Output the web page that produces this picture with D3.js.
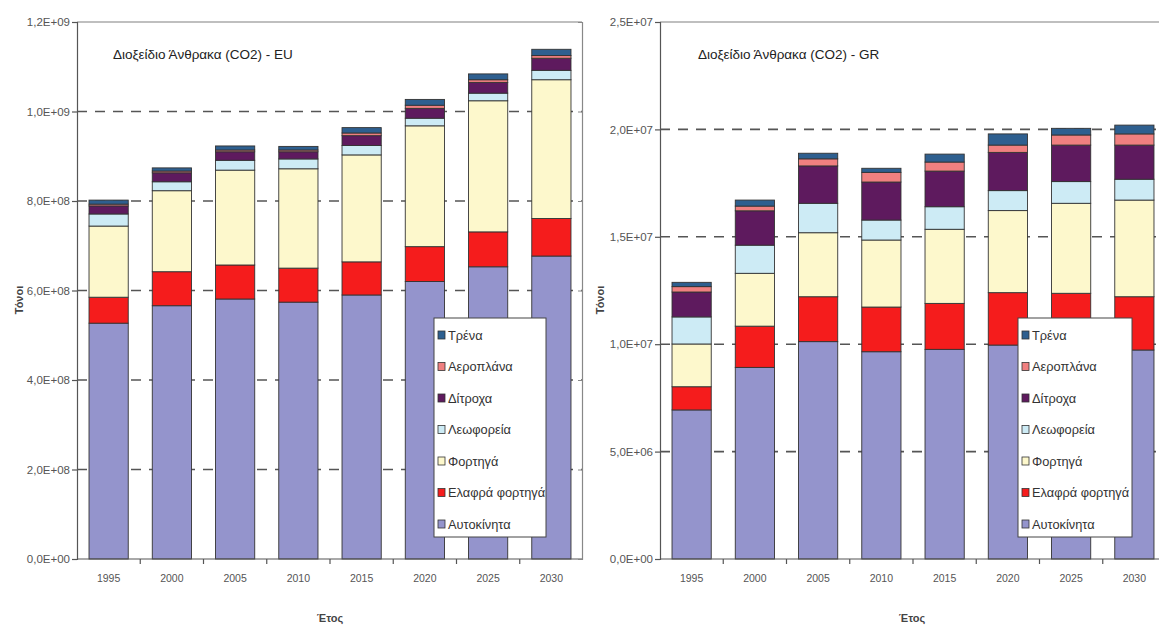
<!DOCTYPE html>
<html><head><meta charset="utf-8">
<script src="https://cdn.jsdelivr.net/npm/d3@7"></script>
<style>
html,body{margin:0;padding:0;background:#fff;}
svg{display:block;font-family:"Liberation Sans",Arial,sans-serif;}
</style></head>
<body>
<svg id="chart" width="1159" height="628"></svg>
<script>
// ---------- DATA ----------
const years = ["1995","2000","2005","2010","2015","2020","2025","2030"];
const seriesNames = ["Αυτοκίνητα","Ελαφρά φορτηγά","Φορτηγά","Λεωφορεία","Δίτροχα","Αεροπλάνα","Τρένα"];
const seriesColors = ["#9494cc","#f51c1c","#fdf8cc","#cdebf5","#5e1a5e","#f08080","#2e5f8f"];

// EU (tonnes)
const euAutokinita = [527e6, 566e6, 581e6, 574e6, 590e6, 620e6, 653e6, 677e6];
const euElafra     = [58e6, 76e6, 76e6, 76e6, 74e6, 78e6, 78e6, 84e6];
const euFortiga    = [159e6, 181e6, 212e6, 222e6, 239e6, 270e6, 293e6, 310e6];
const euLeoforeia  = [27e6, 20e6, 22e6, 22e6, 21e6, 17e6, 17e6, 21e6];
const euDitroxa    = [18e6, 20e6, 19e6, 16e6, 22e6, 22e6, 24e6, 27e6];
const euAeroplana  = [4e6, 4e6, 4e6, 4e6, 6e6, 7e6, 6e6, 6e6];
const euTrena      = [9e6, 7e6, 9e6, 8e6, 12e6, 13e6, 13e6, 14e6];

// GR (tonnes)
const grAutokinita = [6.94e6, 8.92e6, 10.12e6, 9.65e6, 9.76e6, 9.96e6, 9.90e6, 9.73e6];
const grElafra     = [1.08e6, 1.92e6, 2.09e6, 2.08e6, 2.14e6, 2.44e6, 2.47e6, 2.48e6];
const grFortiga    = [1.99e6, 2.46e6, 2.98e6, 3.12e6, 3.45e6, 3.82e6, 4.19e6, 4.50e6];
const grLeoforeia  = [1.26e6, 1.31e6, 1.37e6, 0.93e6, 1.05e6, 0.93e6, 1.01e6, 0.97e6];
const grDitroxa    = [1.16e6, 1.60e6, 1.74e6, 1.77e6, 1.66e6, 1.78e6, 1.70e6, 1.59e6];
const grAeroplana  = [0.25e6, 0.22e6, 0.33e6, 0.45e6, 0.42e6, 0.34e6, 0.47e6, 0.52e6];
const grTrena      = [0.20e6, 0.28e6, 0.26e6, 0.19e6, 0.37e6, 0.52e6, 0.31e6, 0.41e6];

// Axis ticks
const euTicks = [0, 2e8, 4e8, 6e8, 8e8, 1e9, 1.2e9];
const euTickLabels = ["0,0E+00","2,0E+08","4,0E+08","6,0E+08","8,0E+08","1,0E+09","1,2E+09"];
const grTicks = [0, 5e6, 1e7, 1.5e7, 2e7, 2.5e7];
const grTickLabels = ["0,0E+00","5,0E+06","1,0E+07","1,5E+07","2,0E+07","2,5E+07"];

const titleEU = "Διοξείδιο Άνθρακα (CO2) - EU";
const titleGR = "Διοξείδιο Άνθρακα (CO2) - GR";
const yTitle = "Τόνοι";
const xTitle = "Έτος";

// ---------- DRAW ----------
const svg = d3.select("#chart");
svg.append("rect").attr("width",1159).attr("height",628).attr("fill","#fff");

function buildRows(arrs){
  return years.map((y,i)=>{
    const r = {year:y};
    seriesNames.forEach((s,k)=>{ r[s] = arrs[k][i]; });
    return r;
  });
}

function drawPanel(cfg){
  const g = svg.append("g");
  const x = d3.scaleBand().domain(years).range([cfg.x0, cfg.x1]).paddingInner(0.38).paddingOuter(0.19);
  const y = d3.scaleLinear().domain([0, cfg.ymax]).range([cfg.yb, cfg.yt]);

  // gridlines
  cfg.ticks.forEach((t)=>{
    if (t === 0) return;
    const last = (t === cfg.ymax);
    g.append("line")
      .attr("x1", cfg.x0).attr("x2", cfg.gridEnd)
      .attr("y1", y(t)).attr("y2", y(t))
      .attr("stroke", last ? "#aaa" : "#555")
      .attr("stroke-width", 1.6)
      .attr("stroke-dasharray", last ? null : "10,8");
  });

  const rows = buildRows(cfg.data);
  const stack = d3.stack().keys(seriesNames)(rows);
  stack.forEach((layer,k)=>{
    g.append("g").selectAll("rect").data(layer).join("rect")
      .attr("x", d=>x(d.data.year))
      .attr("width", x.bandwidth())
      .attr("y", d=>y(d[1]))
      .attr("height", d=>Math.max(0, y(d[0]) - y(d[1])))
      .attr("fill", seriesColors[k])
      .attr("stroke", "#333")
      .attr("stroke-width", 0.9);
  });

  // y axis
  const ya = d3.axisLeft(y).tickValues(cfg.ticks).tickSize(5).tickFormat((d,i)=>cfg.tickLabels[i]);
  const yg = g.append("g").attr("transform", `translate(${cfg.x0},0)`).call(ya);
  yg.select(".domain").attr("stroke","#555").attr("stroke-width",1.2);
  yg.selectAll(".tick line").attr("stroke","#555").attr("stroke-width",1.2);
  yg.selectAll("text").attr("font-size", 11.5).attr("fill","#555").attr("x", -7)
    .attr("font-family","'Liberation Sans Narrow','Liberation Sans',Arial,sans-serif");

  // x axis
  const xg = g.append("g").attr("transform", `translate(0,${cfg.yb})`);
  xg.append("line").attr("x1", cfg.x0).attr("x2", cfg.gridEnd).attr("y1",0).attr("y2",0)
    .attr("stroke","#555").attr("stroke-width",1.2);
  years.forEach((yr,i)=>{
    if (i>0){
      const bx = x(yr) - x.step()*x.paddingInner()/2;
      xg.append("line").attr("x1",bx).attr("x2",bx).attr("y1",0).attr("y2",5)
        .attr("stroke","#555").attr("stroke-width",1.2);
    }
    xg.append("text").attr("x", x(yr)+x.bandwidth()/2).attr("y", 23)
      .attr("text-anchor","middle").attr("font-size",10.5).attr("fill","#555").text(yr);
  });

  // titles
  g.append("text").attr("x", cfg.titleX).attr("y", 59).attr("font-size", 13.5)
    .attr("fill","#222").text(cfg.title);
  g.append("text").attr("x", cfg.xTitleX).attr("y", 622).attr("text-anchor","middle")
    .attr("font-size",11).attr("font-weight","bold").attr("fill","#444").text(xTitle);
  g.append("text").attr("transform", `translate(${cfg.yTitleX},300) rotate(-90)`)
    .attr("text-anchor","middle").attr("font-size",11).attr("font-weight","bold")
    .attr("fill","#444").text(yTitle);

  // right frame
  if (cfg.rightAxis){
    const ra = d3.axisLeft(y).tickValues(cfg.ticks).tickSize(4).tickFormat("");
    const rg = g.append("g").attr("transform", `translate(${cfg.gridEnd},0)`).call(ra);
    rg.select(".domain").attr("stroke","#888").attr("stroke-width",1.2);
    rg.selectAll(".tick line").attr("stroke","#888");
  }

  // legend
  const lg = g.append("g").attr("transform", `translate(${cfg.legX},318)`);
  lg.append("rect").attr("width", cfg.legW).attr("height", 219)
    .attr("fill","#fff").attr("stroke","#444").attr("stroke-width",1);
  const order = seriesNames.map((s,k)=>k).reverse();
  order.forEach((k,j)=>{
    const cy = 17 + j*31.5;
    lg.append("rect").attr("x",4).attr("y",cy-4).attr("width",7).attr("height",8)
      .attr("fill", seriesColors[k]).attr("stroke","#333").attr("stroke-width",0.8);
    lg.append("text").attr("x",14).attr("y",cy+4.5).attr("font-size",12.8)
      .attr("fill","#333").text(seriesNames[k]);
  });
}

drawPanel({
  x0:77, x1:583, gridEnd:582, yb:559, yt:22, ymax:1.2e9,
  ticks: euTicks, tickLabels: euTickLabels,
  data:[euAutokinita, euElafra, euFortiga, euLeoforeia, euDitroxa, euAeroplana, euTrena],
  title: titleEU, titleX:113, xTitleX:330, yTitleX:23, rightAxis:true,
  legX:434, legW:112
});
drawPanel({
  x0:660, x1:1166, gridEnd:1166, yb:559, yt:22, ymax:2.5e7,
  ticks: grTicks, tickLabels: grTickLabels,
  data:[grAutokinita, grElafra, grFortiga, grLeoforeia, grDitroxa, grAeroplana, grTrena],
  title: titleGR, titleX:698, xTitleX:912, yTitleX:604, rightAxis:false,
  legX:1018, legW:114
});
</script>
</body></html>
